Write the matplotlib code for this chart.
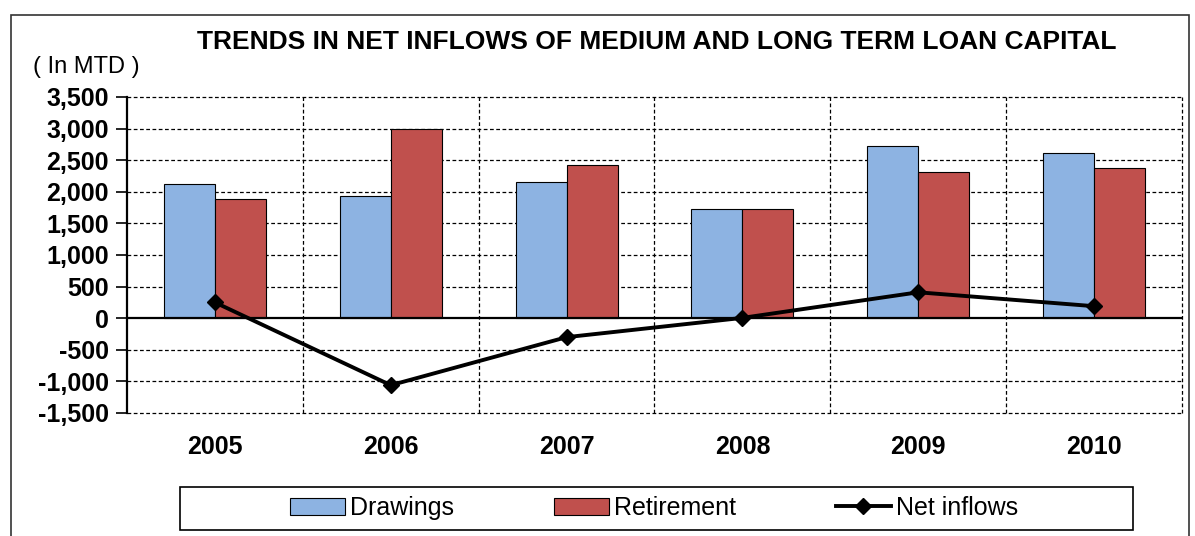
import numpy as np
import matplotlib.pyplot as plt
from matplotlib.patches import Rectangle
from matplotlib.ticker import FuncFormatter

years = ['2005', '2006', '2007', '2008', '2009', '2010']
drawings = [2130, 1930, 2150, 1725, 2720, 2610]
retirement = [1880, 2990, 2420, 1725, 2310, 2375]
net_inflows = [250, -1060, -300, 5, 410, 190]

plt.rcParams['font.family'] = ['Liberation Sans', 'DejaVu Sans']

fig = plt.figure(figsize=(11.95, 5.36), dpi=100)
ax = fig.add_axes([127 / 1195, 123 / 536, 1055 / 1195, 316 / 536])

x = np.arange(len(years))
w = 0.29
b1 = ax.bar(x - w / 2, drawings, w, color='#8DB3E2', edgecolor='black', linewidth=0.8,
            label='Drawings', zorder=3)
b2 = ax.bar(x + w / 2, retirement, w, color='#C0504D', edgecolor='black', linewidth=0.8,
            label='Retirement', zorder=3)
ln, = ax.plot(x, net_inflows, color='black', linewidth=2.8, marker='D', markersize=8,
              label='Net inflows', zorder=5)

ax.set_xlim(-0.5, len(years) - 0.5)
ax.set_ylim(-1500, 3500)
ax.set_yticks(np.arange(-1500, 3501, 500))
ax.yaxis.set_major_formatter(FuncFormatter(lambda v, p: f'{int(v):,}'))
ax.set_xticks(x)
ax.set_xticklabels(years)

# gridlines: horizontal at each tick, vertical between categories
for y in np.arange(-1500, 3501, 500):
    if y != 0:
        ax.axhline(y, color='black', linestyle=(0, (3, 2)), linewidth=0.9, zorder=1,
                   clip_on=False)
for b in np.arange(0.5, len(years), 1):
    ax.axvline(b, color='black', linestyle=(0, (3, 2)), linewidth=0.9, zorder=1,
               clip_on=False)
ax.axhline(0, color='black', linewidth=1.6, zorder=4)

for s in ['top', 'right', 'bottom']:
    ax.spines[s].set_visible(False)
ax.spines['left'].set_linewidth(1.6)
ax.tick_params(axis='y', length=8, width=1.2, labelsize=18, pad=5)
ax.tick_params(axis='x', length=0, labelsize=18, pad=16)
for lbl in ax.get_yticklabels() + ax.get_xticklabels():
    lbl.set_fontweight('bold')

fig.text(657 / 1195, 1 - 42 / 536, 'TRENDS IN NET INFLOWS OF MEDIUM AND LONG TERM LOAN CAPITAL',
         ha='center', va='center', fontsize=19, fontweight='bold')
fig.text(33 / 1195, 1 - 67 / 536, '( In MTD )', ha='left', va='center', fontsize=17)

# outer chart frame
fig.patches.append(Rectangle((11 / 1195, -0.05), 1178 / 1195, 1.05 - 15 / 536,
                             transform=fig.transFigure, fill=False,
                             edgecolor='#333333', linewidth=1.2))

# legend box
fig.patches.append(Rectangle((180 / 1195, 6 / 536), 953 / 1195, 43 / 536,
                             transform=fig.transFigure, fill=False,
                             edgecolor='black', linewidth=1.2))
fig.legend([b1, b2, ln], ['Drawings', 'Retirement', 'Net inflows'],
           loc='center', bbox_to_anchor=(654 / 1195, 1 - 508 / 536), ncol=3,
           fontsize=18, frameon=False, columnspacing=4.0, handlelength=2.2,
           handletextpad=0.2)

fig.savefig('out.png', dpi=100)
